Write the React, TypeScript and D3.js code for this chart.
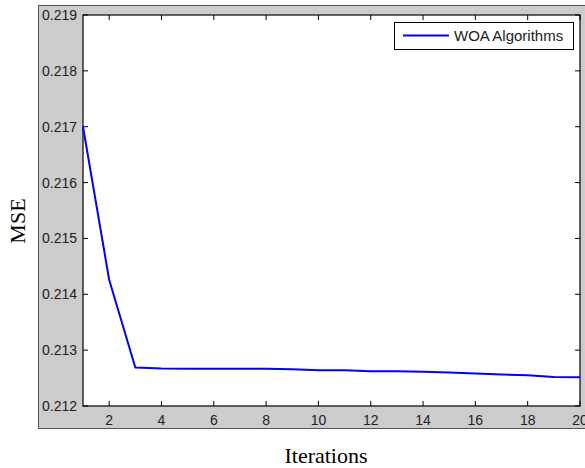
import React from "react";
import * as d3 from "d3";

const iterations = [1, 2, 3, 4, 5, 6, 7, 8, 9, 10, 11, 12, 13, 14, 15, 16, 17, 18, 19, 20];
const mse = [
  0.217, 0.21426, 0.21269, 0.21267, 0.212665, 0.212665, 0.212665, 0.212665, 0.21266, 0.21264,
  0.21264, 0.21262, 0.21262, 0.212614, 0.2126, 0.212582, 0.212564, 0.21255, 0.212519, 0.212514,
];
const xTicks = [2, 4, 6, 8, 10, 12, 14, 16, 18, 20];
const yTicks = [0.212, 0.213, 0.214, 0.215, 0.216, 0.217, 0.218, 0.219];
const seriesName = "WOA Algorithms";
const xLabel = "Iterations";
const yLabel = "MSE";

export default function App() {
  const W = 585, H = 468;
  const left = 83, right = 580, top = 15, bottom = 406;
  const x = d3.scaleLinear().domain([1, 20]).range([left, right]);
  const y = d3.scaleLinear().domain([0.212, 0.219]).range([bottom, top]);
  const line = d3.line<number>().x((_, i) => x(iterations[i])).y((d) => y(d));
  const tl = 5;
  const sans = "'Liberation Sans', Arial, sans-serif";
  const serif = "'Liberation Serif', 'Times New Roman', serif";
  return (
    <svg width={W} height={H} style={{ position: "absolute", left: 0, top: 0, background: "#fff" }}>
      <rect x={38.5} y={5.5} width={560} height={423} fill="#cccccc" stroke="#555" strokeWidth={1} />
      <rect x={left} y={top} width={right - left} height={bottom - top} fill="#fff" />
      {yTicks.map((t) => (
        <g key={"y" + t}>
          <line x1={left} x2={left + tl} y1={y(t)} y2={y(t)} stroke="#000" />
          <line x1={right} x2={right - tl} y1={y(t)} y2={y(t)} stroke="#000" />
          <text x={left - 6} y={y(t)} dy="0.36em" textAnchor="end" fontFamily={sans} fontSize={14} fill="#222">
            {d3.format(".3f")(t)}
          </text>
        </g>
      ))}
      {xTicks.map((t) => (
        <g key={"x" + t}>
          <line x1={x(t)} x2={x(t)} y1={bottom} y2={bottom - tl} stroke="#000" />
          <line x1={x(t)} x2={x(t)} y1={top} y2={top + tl} stroke="#000" />
          <text x={x(t)} y={bottom + 19} textAnchor="middle" fontFamily={sans} fontSize={14} fill="#222">
            {t}
          </text>
        </g>
      ))}
      <rect x={left} y={top} width={right - left} height={bottom - top} fill="none" stroke="#000" strokeWidth={1.2} />
      <path d={line(mse) || ""} fill="none" stroke="#0000ff" strokeWidth={2} strokeLinejoin="round" />
      <rect x={394.5} y={22.5} width={179} height={27} fill="#fff" stroke="#000" strokeWidth={1} />
      <line x1={403} x2={449} y1={35.5} y2={35.5} stroke="#0000ff" strokeWidth={2} />
      <text x={454} y={36} dy="0.36em" fontFamily={sans} fontSize={15} fill="#222">
        {seriesName}
      </text>
      <text x={326} y={463} textAnchor="middle" fontFamily={serif} fontSize={22} fill="#000">
        {xLabel}
      </text>
      <text
        transform={`translate(25,221) rotate(-90)`}
        textAnchor="middle"
        fontFamily={serif}
        fontSize={22}
        fill="#000"
      >
        {yLabel}
      </text>
    </svg>
  );
}
